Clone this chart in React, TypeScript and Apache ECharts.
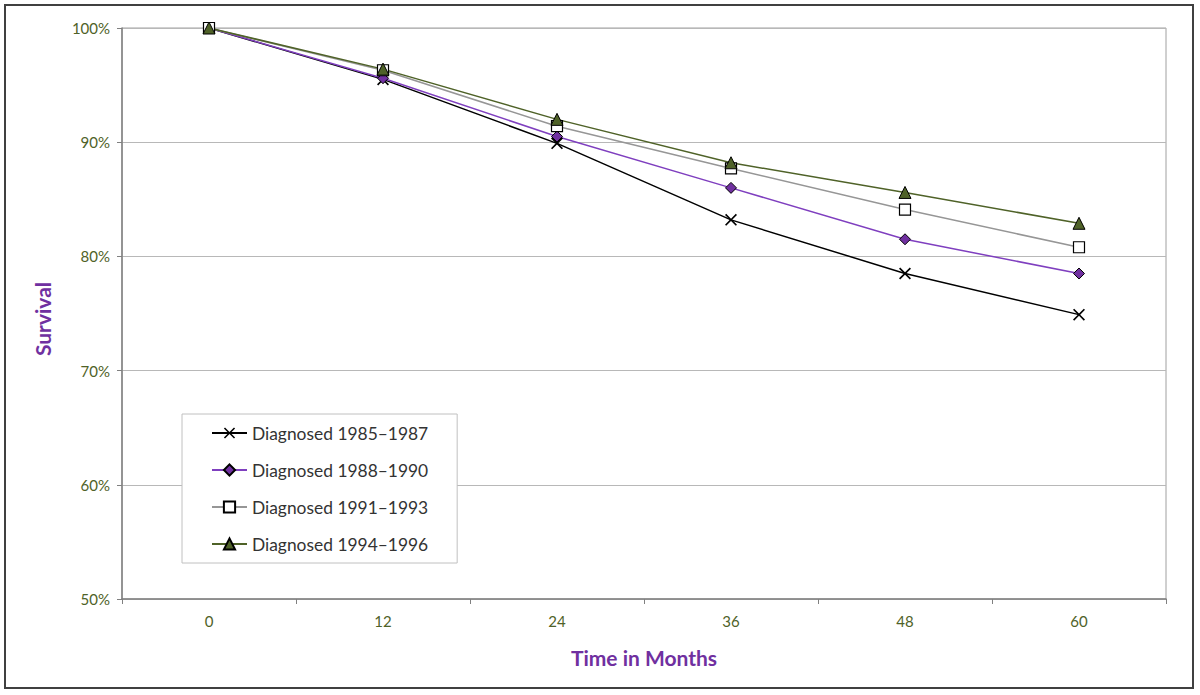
import React, { useEffect, useRef } from "react";
import * as echarts from "echarts";

const months = ["0", "12", "24", "36", "48", "60"];
const yTicks = [50, 60, 70, 80, 90, 100];
const s1985 = [100, 95.5, 89.9, 83.2, 78.5, 74.9];
const s1988 = [100, 95.6, 90.5, 86.0, 81.5, 78.5];
const s1991 = [100, 96.3, 91.4, 87.7, 84.1, 80.8];
const s1994 = [100, 96.4, 92.0, 88.2, 85.6, 82.9];
const seriesNames = [
  "Diagnosed 1985–1987",
  "Diagnosed 1988–1990",
  "Diagnosed 1991–1993",
  "Diagnosed 1994–1996",
];

const FONT = "Lato, 'Open Sans', sans-serif";
const CROSS =
  "path://M1,0 L5,4 L9,0 L10,1 L6,5 L10,9 L9,10 L5,6 L1,10 L0,9 L4,5 L0,1 Z";

export default function App() {
  const ref = useRef<HTMLDivElement>(null);
  useEffect(() => {
    if (!ref.current) return;
    const chart = echarts.init(ref.current, undefined, { renderer: "svg" });
    const mk = (
      name: string,
      data: number[],
      lineColor: string,
      symbol: string,
      size: number,
      fill: string,
      border: string,
      bw: number
    ) => ({
      name,
      type: "line",
      data,
      symbol,
      symbolSize: size,
      showAllSymbol: true,
      lineStyle: { color: lineColor, width: 1.5 },
      itemStyle: { color: fill, borderColor: border, borderWidth: bw },
      emphasis: { disabled: true },
    });
    chart.setOption({
      animation: false,
      backgroundColor: "#ffffff",
      grid: {
        left: 122,
        top: 28,
        right: 1200 - 1166,
        bottom: 695 - 599,
        show: true,
        borderColor: "#a0a0a0",
        borderWidth: 1,
        backgroundColor: "transparent",
      },
      xAxis: {
        type: "category",
        data: months,
        boundaryGap: true,
        axisLine: { lineStyle: { color: "#808080", width: 1.5 } },
        axisTick: { show: true, length: 5, interval: 0, lineStyle: { color: "#808080" } },
        axisLabel: { color: "#4f6228", fontSize: 15, fontFamily: FONT, margin: 14, interval: 0 },
        splitLine: { show: false },
      },
      yAxis: {
        type: "value",
        min: yTicks[0],
        max: yTicks[yTicks.length - 1],
        interval: 10,
        axisLine: { show: true, lineStyle: { color: "#808080", width: 1.5 } },
        axisTick: { show: true, length: 5, lineStyle: { color: "#808080" } },
        axisLabel: { color: "#4f6228", fontSize: 15, fontFamily: FONT, margin: 12, formatter: "{value}%" },
        splitLine: { show: true, lineStyle: { color: "#b8b8b8", width: 1 } },
      },
      legend: {
        orient: "vertical",
        left: 182,
        top: 414,
        data: seriesNames,
        backgroundColor: "#ffffff",
        borderColor: "#c0c0c0",
        borderWidth: 1,
        padding: [9, 29, 9, 29],
        itemWidth: 35,
        itemHeight: 14,
        itemGap: 17,
        selectedMode: false,
        textStyle: { color: "#333333", fontSize: 17.4, fontFamily: FONT, lineHeight: 20 },
      },
      graphic: [
        {
          type: "rect",
          shape: { x: 5, y: 5, width: 1188, height: 683 },
          style: { fill: "none", stroke: "#404040", lineWidth: 2 },
          silent: true,
        },
        {
          type: "text",
          x: 42,
          y: 319,
          rotation: Math.PI / 2,
          style: {
            text: "Survival",
            fill: "#7030a0",
            font: `bold 21px ${FONT}`,
            align: "center",
            verticalAlign: "middle",
          },
        },
        {
          type: "text",
          x: 644,
          y: 657,
          style: {
            text: "Time in Months",
            fill: "#7030a0",
            font: `bold 21px ${FONT}`,
            align: "center",
            verticalAlign: "middle",
          },
        },
      ],
      series: [
        mk(seriesNames[0], s1985, "#000000", CROSS, 12, "#000000", "#000000", 0),
        mk(seriesNames[1], s1988, "#7f3fbf", "diamond", 11, "#7030a0", "#000000", 1),
        mk(seriesNames[2], s1991, "#969696", "rect", 11, "#ffffff", "#000000", 1.2),
        mk(seriesNames[3], s1994, "#4f6228", "triangle", 12, "#4f6228", "#000000", 1),
      ],
    });
    return () => chart.dispose();
  }, []);
  return (
    <div
      ref={ref}
      style={{ position: "fixed", left: 0, top: 0, width: 1200, height: 695, background: "#fff" }}
    />
  );
}
